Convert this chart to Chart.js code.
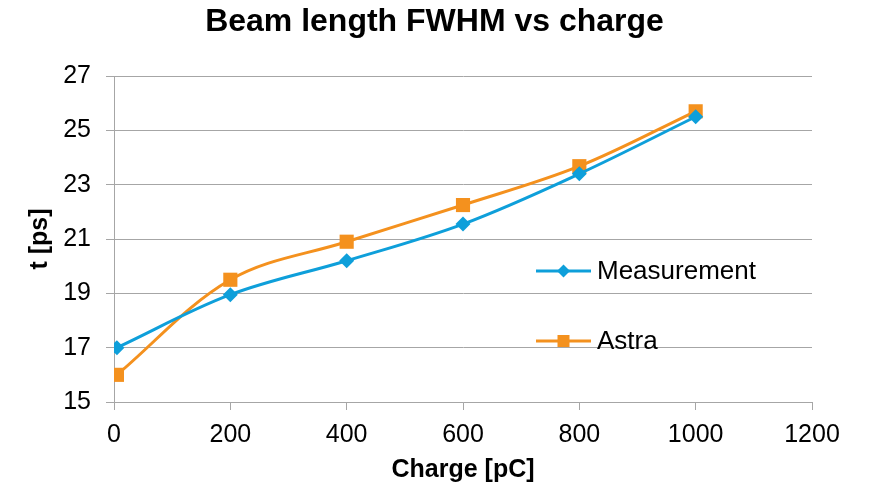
<!DOCTYPE html>
<html>
<head>
<meta charset="utf-8">
<script src="https://cdn.jsdelivr.net/npm/chart.js@4/dist/chart.umd.min.js"></script>
<style>
  html, body { margin: 0; padding: 0; background: #fff; }
  #wrap { width: 869px; height: 490px; }
</style>
</head>
<body>
<div id="wrap"><canvas id="chart" width="869" height="490"></canvas></div>
<script>
// chart data
const charge = [5, 200, 400, 600, 800, 1000];
const measurement = [17.0, 18.95, 20.2, 21.55, 23.4, 25.5];
const astra = [16.0, 19.5, 20.9, 22.25, 23.68, 25.7];
const seriesNames = ['Measurement', 'Astra'];

const BLUE = '#0E9FDA';
const ORANGE = '#F4911E';
const GRID = '#A6A6A6';
const FONT = "'Liberation Sans', Arial, sans-serif";

const toPoints = (ys) => charge.map((x, i) => ({ x, y: ys[i] }));

// legend drawn inside the plot area, like the original
const insideLegend = {
  id: 'insideLegend',
  afterDatasetsDraw(chart) {
    const { ctx, chartArea } = chart;
    const rows = [
      { ds: chart.data.datasets[0], y: 271, half: 6.5 },
      { ds: chart.data.datasets[1], y: 341, half: 6 }
    ];
    const x0 = chartArea.left + 422;
    const x1 = x0 + 55;
    const mid = (x0 + x1) / 2;
    ctx.save();
    rows.forEach(r => {
      ctx.strokeStyle = r.ds.borderColor;
      ctx.lineWidth = 3;
      ctx.beginPath();
      ctx.moveTo(x0, r.y);
      ctx.lineTo(x1, r.y);
      ctx.stroke();
      ctx.fillStyle = r.ds.borderColor;
      const h = r.half;
      ctx.beginPath();
      if (r.ds.pointStyle === 'rectRot') {
        ctx.moveTo(mid, r.y - h);
        ctx.lineTo(mid + h, r.y);
        ctx.lineTo(mid, r.y + h);
        ctx.lineTo(mid - h, r.y);
      } else {
        ctx.rect(mid - h, r.y - h, h * 2, h * 2);
      }
      ctx.closePath();
      ctx.fill();
      ctx.fillStyle = '#000';
      ctx.font = '26px ' + FONT;
      ctx.textBaseline = 'middle';
      ctx.textAlign = 'left';
      ctx.fillText(r.ds.label, x1 + 6, r.y + 1);
    });
    ctx.restore();
  }
};

new Chart(document.getElementById('chart'), {
  type: 'line',
  data: {
    datasets: [
      {
        label: seriesNames[0],
        data: toPoints(measurement),
        borderColor: BLUE,
        backgroundColor: BLUE,
        borderWidth: 3,
        pointStyle: 'rectRot',
        pointRadius: 7.5,
        pointBorderWidth: 0,
        tension: 0.35
      },
      {
        label: seriesNames[1],
        data: toPoints(astra),
        borderColor: ORANGE,
        backgroundColor: ORANGE,
        borderWidth: 3,
        pointStyle: 'rect',
        pointRadius: 10,
        pointBorderWidth: 0,
        tension: 0.35
      }
    ]
  },
  options: {
    responsive: false,
    animation: false,
    layout: { padding: { left: 28, right: 28, top: 0, bottom: 0 } },
    plugins: {
      legend: { display: false },
      tooltip: { enabled: false },
      title: {
        display: true,
        text: 'Beam length FWHM vs charge',
        color: '#000',
        font: { family: FONT, size: 32, weight: 'bold' },
        padding: { top: 3, bottom: 34.6 }
      }
    },
    scales: {
      x: {
        type: 'linear',
        min: 0,
        max: 1200,
        ticks: {
          stepSize: 200,
          color: '#000',
          font: { family: FONT, size: 25 },
          padding: 10,
          maxRotation: 0,
          callback: (v) => String(v)
        },
        grid: { drawOnChartArea: false, color: GRID, tickLength: 8 },
        border: { color: GRID },
        title: {
          display: true,
          text: 'Charge [pC]',
          color: '#000',
          font: { family: FONT, size: 25, weight: 'bold' },
          padding: { top: 0, bottom: 5 }
        },
        afterFit(scale) { scale.height = 88; }
      },
      y: {
        min: 15,
        max: 27,
        ticks: {
          stepSize: 2,
          color: '#000',
          font: { family: FONT, size: 25 },
          padding: 15
        },
        grid: { color: GRID, tickLength: 8 },
        border: { color: GRID },
        title: {
          display: true,
          text: 't [ps]',
          color: '#000',
          font: { family: FONT, size: 25, weight: 'bold', lineHeight: 1 },
          padding: { top: 0, bottom: 0 }
        },
        afterFit(scale) { scale.width = 86; }
      },
      // empty right-hand spacer so the plot ends where the original does
      spacer: {
        position: 'right',
        min: 15,
        max: 27,
        grid: { display: false },
        border: { display: false },
        ticks: { display: false },
        afterFit(scale) { scale.width = 29; }
      }
    }
  },
  plugins: [insideLegend]
});
</script>
</body>
</html>
